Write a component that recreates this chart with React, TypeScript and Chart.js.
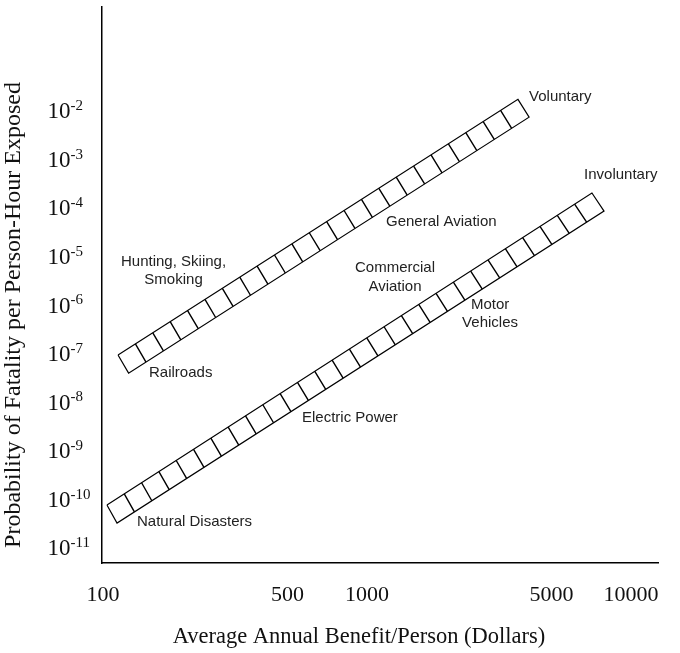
import React, { useEffect, useRef } from "react";
import { Chart, registerables } from "chart.js";

Chart.register(...registerables);

// ---- Data ----
const xTickValues = [100, 500, 1000, 5000, 10000];
const yTickExponents = [-2, -3, -4, -5, -6, -7, -8, -9, -10, -11];

// Band corners in order: upper-left, upper-right, lower-right, lower-left
const voluntaryBenefit = [114, 3730, 4110, 125];
const voluntaryRisk = [9.2e-8, 1.7e-2, 7.3e-3, 3.9e-8];
const involuntaryBenefit = [103.5, 7110, 7900, 113];
const involuntaryRisk = [7.5e-11, 2.0e-4, 8.5e-5, 3.2e-11];

// Labels anchored in data space
const labelTexts = [
  ["Voluntary"],
  ["Involuntary"],
  ["General Aviation"],
  ["Commercial", "Aviation"],
  ["Motor", "Vehicles"],
  ["Hunting, Skiing,", "Smoking"],
  ["Railroads"],
  ["Electric Power"],
  ["Natural Disasters"],
];
const labelBenefit = [4108, 6637, 1180, 1276, 2924, 185, 149.4, 567, 134.5];
const labelRisk = [1.9e-2, 4.7e-4, 5.06e-5, 3.64e-6, 6.44e-7, 4.96e-6, 3.93e-8, 4.66e-9, 3.36e-11];
const labelAlign: CanvasTextAlign[] = ["left", "left", "left", "center", "center", "center", "left", "left", "left"];

// ---- Style ----
const HATCH_COUNTS = [23, 28];
const SERIF = "'Liberation Serif', 'DejaVu Serif', serif";
const SANS = "'Liberation Sans', Arial, sans-serif";

const toPoints = (xs: number[], ys: number[]) => {
  const pts = xs.map((x, i) => ({ x, y: ys[i] }));
  return [...pts, pts[0]];
};

const overlayPlugin = {
  id: "overlay",
  afterDatasetsDraw(chart: any) {
    const { ctx } = chart;
    const xs = chart.scales.x;
    const ys = chart.scales.y;
    const bands = [
      [voluntaryBenefit, voluntaryRisk],
      [involuntaryBenefit, involuntaryRisk],
    ];
    ctx.save();
    ctx.strokeStyle = "#000";
    ctx.lineWidth = 1.4;
    bands.forEach(([b, r], k) => {
      const p = b.map((v, i) => [xs.getPixelForValue(v), ys.getPixelForValue(r[i])]);
      const [ul, ur, lr, ll] = p;
      const n = HATCH_COUNTS[k];
      ctx.beginPath();
      for (let i = 1; i < n; i++) {
        const t = i / n;
        ctx.moveTo(ul[0] + t * (ur[0] - ul[0]), ul[1] + t * (ur[1] - ul[1]));
        ctx.lineTo(ll[0] + t * (lr[0] - ll[0]), ll[1] + t * (lr[1] - ll[1]));
      }
      ctx.stroke();
    });
    ctx.restore();
  },
  afterDraw(chart: any) {
    const { ctx } = chart;
    const xs = chart.scales.x;
    const ys = chart.scales.y;
    ctx.save();
    // y tick labels with superscript exponents
    ctx.fillStyle = "#111";
    yTickExponents.forEach((e) => {
      const y = ys.getPixelForValue(Math.pow(10, e));
      ctx.font = `23px ${SERIF}`;
      ctx.textAlign = "left";
      ctx.textBaseline = "alphabetic";
      ctx.fillText("10", 47.5, y + 7.8);
      const w = ctx.measureText("10").width;
      ctx.font = `15px ${SERIF}`;
      ctx.fillText(String(e), 47.5 + w, y - 0.5);
    });
    // axis titles
    ctx.font = `22.5px ${SERIF}`;
    ctx.textAlign = "center";
    ctx.textBaseline = "middle";
    ctx.fillText("Average Annual Benefit/Person (Dollars)", 359, 637);
    ctx.save();
    ctx.translate(14, 315);
    ctx.rotate(-Math.PI / 2);
    ctx.font = `24px ${SERIF}`;
    ctx.fillText("Probability of Fatality per Person-Hour Exposed", 0, 0);
    ctx.restore();
    // annotations
    ctx.fillStyle = "#222";
    ctx.font = `15px ${SANS}`;
    ctx.textBaseline = "middle";
    labelTexts.forEach((lines, i) => {
      const x = xs.getPixelForValue(labelBenefit[i]);
      const y = ys.getPixelForValue(labelRisk[i]);
      const lh = 18.5;
      ctx.textAlign = labelAlign[i];
      lines.forEach((line, j) => {
        ctx.fillText(line, x, y + (j - (lines.length - 1) / 2) * lh);
      });
    });
    ctx.restore();
  },
};

export default function App() {
  const ref = useRef<HTMLCanvasElement | null>(null);
  useEffect(() => {
    if (!ref.current) return;
    const chart = new Chart(ref.current, {
      type: "scatter",
      data: {
        datasets: [
          {
            label: "Voluntary",
            data: toPoints(voluntaryBenefit, voluntaryRisk),
            showLine: true,
            borderColor: "#000",
            borderWidth: 1.2,
            pointRadius: 0,
            fill: false,
          },
          {
            label: "Involuntary",
            data: toPoints(involuntaryBenefit, involuntaryRisk),
            showLine: true,
            borderColor: "#000",
            borderWidth: 1.2,
            pointRadius: 0,
            fill: false,
          },
        ],
      },
      options: {
        responsive: true,
        maintainAspectRatio: false,
        animation: false,
        layout: { padding: { left: 0, right: 22, top: 7, bottom: 0 } },
        plugins: { legend: { display: false }, tooltip: { enabled: false } },
        scales: {
          x: {
            type: "logarithmic",
            min: 99.13,
            max: 12650,
            grid: { display: false, drawTicks: false },
            border: { display: true, color: "#000", width: 1.5 },
            ticks: {
              font: { family: SERIF, size: 22 },
              color: "#111",
              padding: 19,
              maxRotation: 0,
              autoSkip: false,
              callback: (v: any) => String(v),
            },
            afterBuildTicks: (s: any) => {
              s.ticks = xTickValues.map((v) => ({ value: v }));
            },
            afterFit: (s: any) => {
              s.height = 90;
            },
          },
          y: {
            type: "logarithmic",
            min: 4.81e-12,
            max: 1.353,
            grid: { display: false, drawTicks: false },
            border: { display: true, color: "#000", width: 1.5 },
            ticks: { display: false },
            afterFit: (s: any) => {
              s.width = 102;
            },
          },
        },
      } as any,
      plugins: [overlayPlugin],
    });
    return () => chart.destroy();
  }, []);
  return (
    <div style={{ position: "absolute", left: 0, top: 0, width: 680, height: 653 }}>
      <canvas ref={ref} />
    </div>
  );
}
